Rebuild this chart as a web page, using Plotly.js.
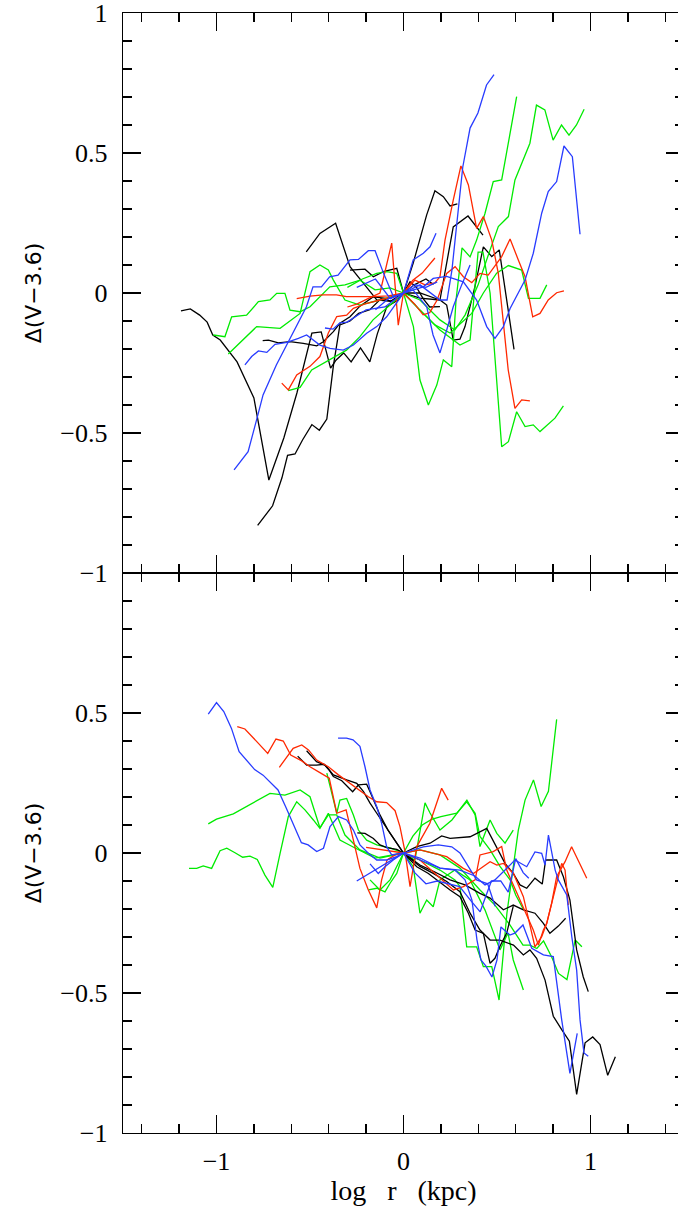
<!DOCTYPE html>
<html>
<head>
<meta charset="utf-8">
<script src="https://cdn.plot.ly/plotly-3.0.1.min.js"></script>
<style>html,body{margin:0;padding:0;overflow:hidden;background:#fff;}</style>
</head>
<body>
<div id="chart"></div>
<script>
// ---------------- TOP PANEL DATA ----------------
var topBlack1X = [-1.19,-1.14,-1.09,-1.05,-1.02,-0.98,-0.89,-0.80,-0.72,-0.64,-0.57,-0.49,-0.44,-0.39,-0.36,-0.32,-0.28,-0.23,-0.18,-0.14,-0.09,-0.03,0,0.052,0.124,0.168,0.213,0.249,0.288];
var topBlack1Y = [-0.064,-0.057,-0.079,-0.104,-0.15,-0.168,-0.246,-0.375,-0.668,-0.518,-0.357,-0.143,-0.139,-0.268,-0.239,-0.214,-0.246,-0.196,-0.246,-0.146,-0.05,-0.025,0,0.107,0.279,0.365,0.344,0.311,0.318];
var topBlack2X = [-0.78,-0.70,-0.65,-0.62,-0.58,-0.54,-0.49,-0.45,-0.41,-0.375,-0.34,-0.286,-0.24,-0.18,-0.12,-0.06,0,0.088,0.195,0.231,0.266,0.302,0.329,0.382,0.427,0.472,0.512,0.591];
var topBlack2Y = [-0.83,-0.76,-0.66,-0.58,-0.575,-0.525,-0.47,-0.49,-0.45,-0.26,-0.114,-0.1,-0.073,-0.06,-0.02,-0.03,0,-0.018,-0.025,-0.043,-0.168,-0.165,-0.12,0.023,0.165,0.13,0.154,-0.201];
var topBlack3X = [-0.52,-0.447,-0.363,-0.286,-0.215,-0.143,-0.07,0,0.088,0.195,0.266,0.345,0.425];
var topBlack3Y = [0.147,0.213,0.249,0.094,0.035,-0.025,-0.03,0,0.0,-0.025,0.236,0.275,0.207];
var topBlack4X = [-0.753,-0.722,-0.669,-0.607,-0.536,-0.464,-0.429,-0.375,-0.34,-0.286,-0.233,-0.197,-0.163,-0.08,0,0.06,0.12,0.16];
var topBlack4Y = [-0.17,-0.168,-0.178,-0.174,-0.18,-0.189,-0.174,-0.138,-0.108,-0.085,-0.047,-0.031,-0.014,-0.02,0,0.03,0.05,0.03];
var topBlack5X = [-0.286,-0.206,-0.161,-0.108,-0.036,0,0.035,0.07,0.105,0.14,0.195];
var topBlack5Y = [0.082,0.085,0.058,0.076,0.088,0,0.04,0.02,-0.02,-0.05,-0.049];

var topBlue1X = [-0.906,-0.831,-0.786,-0.751,-0.680,-0.591,-0.519,-0.484,-0.439,-0.395,-0.350,-0.286,-0.241,-0.188,-0.152,-0.107,-0.054,0,0.06,0.12,0.18];
var topBlue1Y = [-0.632,-0.567,-0.454,-0.364,-0.257,-0.144,-0.049,0.022,0.022,0.058,0.064,0.118,0.12,0.151,0.151,0.071,-0.013,0,0.03,0.02,0.04];
var topBlue2X = [-0.848,-0.812,-0.776,-0.731,-0.687,-0.624,-0.562,-0.518,-0.447,-0.393,-0.322,-0.268,-0.197,-0.143,-0.09,0,0.051,0.124,0.158,0.195,0.231,0.266,0.311,0.356];
var topBlue2Y = [-0.257,-0.227,-0.207,-0.212,-0.183,-0.176,-0.162,-0.15,-0.186,-0.198,-0.204,-0.186,-0.144,-0.12,-0.085,0,0.011,-0.049,-0.15,-0.214,-0.132,-0.049,0.029,0.1];
var topBlue3X = [-0.42,-0.377,-0.34,-0.302,-0.2,-0.1,0,0.088,0.195,0.233,0.259,0.286,0.317,0.356,0.398,0.444,0.484];
var topBlue3Y = [-0.125,-0.129,-0.107,-0.104,-0.06,-0.05,0,0.029,-0.025,-0.025,0.082,0.243,0.45,0.589,0.643,0.743,0.78];
var topBlue4X = [-0.25,-0.15,-0.07,0,0.106,0.159,0.231,0.32,0.391,0.445,0.489,0.534,0.57,0.65,0.694,0.739,0.774,0.819,0.858,0.903,0.944];
var topBlue4Y = [0.02,0.05,-0.02,0,0.022,0.052,0.059,0.04,-0.025,-0.12,-0.162,-0.12,-0.055,0.046,0.142,0.285,0.362,0.398,0.525,0.487,0.21];
var topBlue5X = [-0.15,-0.08,0,0.052,0.106,0.142,0.174];
var topBlue5Y = [-0.06,-0.02,0,0.118,0.142,0.165,0.213];

var topRed1X = [-0.651,-0.616,-0.571,-0.5,-0.447,-0.402,-0.357,-0.304,-0.268,-0.206,-0.126,-0.045,0,0.061,0.115,0.168,0.195,0.222,0.266,0.307,0.347,0.391,0.427,0.472,0.507,0.534,0.56,0.596,0.632,0.676];
var topRed1Y = [-0.322,-0.346,-0.293,-0.262,-0.227,-0.143,-0.084,-0.079,-0.055,-0.039,-0.025,-0.011,0,0.046,0.029,0.036,0.058,0.189,0.332,0.454,0.386,0.231,0.273,0.189,0.07,-0.12,-0.275,-0.412,-0.382,-0.385];
var topRed2X = [-0.571,-0.5,-0.429,-0.358,-0.305,-0.233,-0.161,-0.08,0,0.06,0.105,0.14,0.18,0.231,0.276,0.32,0.365,0.409,0.453,0.525,0.57,0.614,0.65,0.691,0.73,0.774,0.819,0.858];
var topRed2Y = [-0.02,-0.011,-0.007,-0.007,-0.013,-0.013,-0.013,-0.01,0,-0.04,-0.078,-0.07,-0.025,0.07,0.094,0.058,0.037,0.07,0.064,0.13,0.193,0.118,0.058,-0.085,-0.073,-0.025,0.001,0.008];
var topRed3X = [-0.3,-0.25,-0.19,-0.126,-0.063,-0.028,0,0.05,0.1,0.168];
var topRed3Y = [-0.05,-0.04,-0.02,0.0,0.178,-0.115,0,0.046,0.071,0.125];

var topGreen1X = [-0.616,-0.553,-0.491,-0.412,-0.305,-0.233,-0.163,-0.072,0,0.053,0.088,0.133,0.178,0.213,0.258,0.281,0.313,0.356,0.391,0.436,0.48,0.525,0.605];
var topGreen1Y = [-0.349,-0.337,-0.275,-0.245,-0.204,-0.156,-0.096,-0.043,0,-0.12,-0.311,-0.4,-0.329,-0.239,-0.263,-0.025,0.161,0.129,0.189,0.285,0.398,0.404,0.701];
var topGreen2X = [-1.017,-0.955,-0.919,-0.839,-0.776,-0.714,-0.678,-0.634,-0.607,-0.553,-0.5,-0.464,-0.394,-0.313,-0.233,-0.152,-0.072,0,0.088,0.195,0.275,0.329,0.399,0.463,0.507,0.561,0.596,0.676,0.711,0.756,0.8,0.845,0.885,0.925,0.966];
var topGreen2Y = [-0.15,-0.156,-0.085,-0.079,-0.031,-0.025,-0.001,-0.001,-0.061,-0.067,-0.049,-0.025,0.022,0.029,0.046,0.011,0.018,0,-0.025,-0.096,-0.132,-0.079,0.029,0.154,0.237,0.273,0.404,0.535,0.671,0.654,0.546,0.6,0.564,0.6,0.656];
var topGreen3X = [-0.937,-0.857,-0.785,-0.66,-0.553,-0.5,-0.447,-0.402,-0.375,-0.313,-0.233,-0.126,0,0.088,0.195,0.302,0.356,0.399,0.425,0.463,0.489,0.525,0.561,0.605,0.65,0.694,0.73,0.81,0.855];
var topGreen3Y = [-0.218,-0.168,-0.12,-0.126,-0.073,0.076,0.1,0.082,0.046,-0.025,-0.043,-0.025,0,-0.061,-0.132,-0.186,-0.168,0.146,0.146,0,-0.239,-0.549,-0.531,-0.424,-0.477,-0.471,-0.495,-0.447,-0.403];
var topGreen4X = [-0.3,-0.22,-0.143,-0.09,-0.036,0,0.088,0.168,0.249,0.365,0.427,0.498,0.561,0.632,0.668,0.73,0.766];
var topGreen4Y = [0.02,0.05,0.07,0.076,0.07,0,-0.061,-0.114,-0.143,-0.073,0,0.071,0.098,0.082,-0.019,-0.019,0.029];

// ---------------- BOTTOM PANEL DATA ----------------
var botBlue1X = [-1.044,-1.0,-0.961,-0.92,-0.879,-0.84,-0.796,-0.751,-0.706,-0.671,-0.626,-0.591,-0.546,-0.51,-0.464,-0.428,-0.393,-0.348,-0.304,-0.268,-0.233,-0.188,-0.143,-0.09,-0.036,0,0.088,0.195,0.275,0.329,0.366,0.393,0.414,0.441,0.473,0.5,0.521,0.569,0.596,0.639,0.686,0.748,0.801,0.846,0.89,0.929];
var botBlue1Y = [0.496,0.537,0.505,0.445,0.362,0.332,0.298,0.278,0.246,0.225,0.159,0.106,0.037,0.029,0.005,0.017,0.094,0.13,0.118,0.082,0.029,-0.001,-0.025,-0.025,-0.013,0,-0.018,-0.054,-0.061,-0.096,-0.168,-0.311,-0.382,-0.404,-0.443,-0.382,-0.264,-0.293,-0.286,-0.257,-0.34,-0.364,-0.37,-0.596,-0.787,-0.644];
var botBlue2X = [-0.35,-0.305,-0.27,-0.233,-0.206,-0.179,-0.143,-0.117,-0.09,-0.063,-0.019,0,0.088,0.195,0.302,0.382,0.436,0.489,0.543,0.596,0.659,0.703,0.739,0.757,0.775,0.811,0.828,0.873,0.9,0.926,0.944,0.965,0.988];
var botBlue2Y = [0.41,0.41,0.404,0.381,0.308,0.225,0.165,0.106,0.022,-0.007,-0.001,0,-0.025,-0.054,-0.061,-0.082,-0.114,-0.096,-0.061,-0.025,-0.049,0.004,-0.001,-0.043,0.064,-0.061,-0.096,-0.15,-0.299,-0.418,-0.596,-0.714,-0.726];
var botBlue3X = [-0.179,-0.135,-0.099,-0.055,0,0.106,0.186,0.258,0.302,0.347,0.391,0.45,0.49];
var botBlue3Y = [-0.039,-0.073,-0.049,-0.025,0,0.022,0.029,0.022,0,-0.049,-0.096,-0.11,-0.19];
var botBlue4X = [-0.25,-0.15,-0.07,0,0.06,0.12,0.18,0.24,0.3,0.36,0.41,0.47,0.52,0.56,0.6,0.64,0.67];
var botBlue4Y = [-0.1,-0.06,-0.03,0,-0.07,-0.11,-0.1,-0.11,-0.12,-0.17,-0.21,-0.1,-0.1,-0.14,-0.02,-0.07,-0.09];

var botRed1X = [-0.889,-0.848,-0.726,-0.682,-0.643,-0.603,-0.544,-0.5,-0.447,-0.397,-0.357,-0.307,-0.268,-0.233,-0.188,-0.143,-0.117,-0.088,-0.045,0,0.088,0.231,0.32,0.374,0.463,0.499,0.534,0.588,0.641,0.703,0.739,0.766,0.792,0.819,0.864,0.899,0.944,0.98];
var botRed1Y = [0.451,0.443,0.356,0.407,0.4,0.35,0.329,0.308,0.287,0.267,0.142,0.154,0.046,-0.055,-0.132,-0.196,-0.096,-0.025,-0.007,0,0.011,-0.013,-0.055,-0.073,-0.031,-0.043,-0.037,-0.073,-0.156,-0.335,-0.299,-0.251,-0.18,-0.085,-0.031,0.022,-0.037,-0.09];
var botRed2X = [-0.664,-0.625,-0.59,-0.544,-0.508,-0.464,-0.402,-0.348,-0.286,-0.233,-0.188,-0.143,-0.09,-0.045,-0.019,0.008,0.035,0.071,0.141,0.159,0.204,0.239];
var botRed2Y = [0.306,0.342,0.374,0.386,0.368,0.332,0.308,0.279,0.249,0.225,0.201,0.183,0.18,0.151,0.094,0.005,-0.12,0.023,0.106,0.142,0.231,0.189];
var botRed3X = [-0.2,-0.1,0,0.088,0.187,0.267,0.32,0.383,0.409,0.48,0.525,0.552,0.579,0.641,0.694,0.721,0.748,0.766,0.793,0.819,0.846,0.864,0.881];
var botRed3Y = [0.02,0.01,0,-0.025,-0.085,-0.132,-0.12,-0.096,-0.007,0.005,0.023,-0.061,-0.102,-0.192,-0.275,-0.329,-0.275,-0.251,-0.18,-0.108,-0.037,-0.061,-0.186];

var botBlack1X = [-0.566,-0.518,-0.465,-0.425,-0.397,-0.375,-0.33,-0.272,-0.241,-0.197,-0.179,-0.161,-0.126,-0.083,-0.036,0,0.088,0.159,0.231,0.302,0.356,0.409,0.463,0.516,0.588,0.641,0.676,0.712,0.757,0.801,0.846,0.887,0.926,0.971,1.012,1.051,1.092,1.133];
var botBlack1Y = [0.346,0.314,0.314,0.317,0.296,0.273,0.258,0.219,0.243,0.246,0.219,0.189,0.136,0.082,0.036,0,-0.048,-0.073,-0.102,-0.138,-0.215,-0.275,-0.311,-0.311,-0.329,-0.364,-0.346,-0.376,-0.454,-0.583,-0.631,-0.672,-0.862,-0.678,-0.657,-0.684,-0.794,-0.728];
var botBlack2X = [-0.518,-0.465,-0.42,-0.375,-0.304,-0.25,-0.214,-0.179,-0.143,-0.108,-0.072,-0.036,0,0.071,0.142,0.204,0.249,0.356,0.445,0.498,0.543,0.587,0.623,0.659,0.703,0.742,0.76,0.819,0.855,0.89,0.926,0.961,0.988];
var botBlack2Y = [0.365,0.326,0.314,0.279,0.261,0.249,0.219,0.178,0.142,0.106,0.071,0.035,0,0.023,0.035,0.061,0.052,0.058,0.088,0.023,-0.037,-0.073,-0.114,-0.126,-0.09,-0.111,-0.025,-0.025,-0.085,-0.168,-0.346,-0.442,-0.495];
var botBlack3X = [-0.247,-0.206,-0.161,-0.126,-0.09,-0.036,0,0.071,0.133,0.187,0.249,0.302,0.347,0.383,0.427,0.463,0.489,0.516,0.552,0.587];
var botBlack3Y = [0.072,0.07,0.052,0.029,0.019,0.013,0,-0.049,-0.073,-0.102,-0.132,-0.156,-0.215,-0.275,-0.287,-0.394,-0.376,-0.333,-0.286,-0.19];
var botBlack4X = [0,0.088,0.168,0.249,0.329,0.409,0.463,0.534,0.587,0.641,0.703,0.748,0.783,0.828,0.867];
var botBlack4Y = [0,-0.043,-0.068,-0.096,-0.114,-0.144,-0.161,-0.203,-0.186,-0.203,-0.215,-0.251,-0.287,-0.261,-0.233];

var botGreen1X = [-1.044,-1.0,-0.91,-0.838,-0.775,-0.714,-0.634,-0.553,-0.5,-0.447,-0.402,-0.357,-0.313,-0.233,-0.126,0,0.05,0.1,0.15,0.2,0.285,0.338,0.383,0.409,0.463,0.516,0.57,0.6,0.64];
var botGreen1Y = [0.104,0.121,0.14,0.166,0.189,0.213,0.207,0.225,0.201,0.09,0.136,0.136,0.064,0.011,-0.018,0,0.06,0.1,0.12,0.13,0.142,0.183,0.142,0.059,0.011,-0.048,-0.096,-0.15,-0.2];
var botGreen2X = [-1.147,-1.106,-1.071,-1.026,-0.981,-0.945,-0.901,-0.86,-0.821,-0.782,-0.741,-0.699,-0.66,-0.616,-0.571,-0.527,-0.482,-0.447,-0.402,-0.34,-0.259,-0.152,0,0.088,0.195,0.275,0.302,0.338,0.391,0.427,0.472,0.511,0.553,0.589,0.614,0.65,0.695,0.736,0.775,0.819];
var botGreen2Y = [-0.055,-0.055,-0.046,-0.055,0.008,0.017,0.001,-0.015,-0.011,-0.023,-0.079,-0.123,-0.001,0.13,0.183,0.154,0.118,0.088,0.142,0.046,0.018,-0.018,0,-0.025,-0.061,-0.096,-0.12,-0.335,-0.335,-0.406,-0.406,-0.525,-0.215,-0.049,0.082,0.189,0.261,0.166,0.22,0.477];
var botGreen3X = [-0.41,-0.357,-0.34,-0.304,-0.268,-0.241,-0.197,-0.143,-0.072,0,0.061,0.115,0.142,0.195,0.259,0.339,0.383,0.409,0.463,0.499,0.543,0.587];
var botGreen3Y = [0.285,0.142,0.189,0.195,0.136,0.082,0.046,0.029,0.018,0,-0.025,0.179,0.143,0.082,0.118,0.189,0.136,0.023,0.118,0.07,0.035,0.082];
var botGreen4X = [-0.188,-0.143,-0.099,-0.072,-0.036,0,0.052,0.088,0.124,0.159,0.195,0.275,0.356,0.436,0.516,0.559,0.587,0.614,0.641];
var botGreen4Y = [-0.132,-0.126,-0.139,-0.108,-0.073,0,-0.049,-0.215,-0.168,-0.192,-0.096,-0.061,-0.096,-0.204,-0.346,-0.286,-0.382,-0.436,-0.489];
var botGreen5X = [-0.179,-0.126,-0.072,0,0.088,0.195,0.302,0.409,0.489,0.569,0.639,0.676,0.713,0.749,0.793,0.829,0.874,0.918,0.954];
var botGreen5Y = [-0.096,-0.132,-0.096,0,0.011,-0.007,-0.054,-0.132,-0.186,-0.257,-0.329,-0.329,-0.341,-0.314,-0.372,-0.43,-0.452,-0.311,-0.335];

// ---------------- AXIS TEXT ----------------
var xTitle = 'log\u00a0\u00a0\u00a0r\u00a0\u00a0\u00a0(kpc)';
var yTitle = '\u0394(V\u22123.6)';
var xTickVals = [-1, 0, 1];
var xTickText = ['\u22121', '0', '1'];
var yTickVals = [-1, -0.5, 0, 0.5, 1];
var yTopTickText = ['\u22121', '\u22120.5', '0', '0.5', '1'];
var yBotTickText = ['\u22121', '\u22120.5', '0', '0.5', ''];

// ---------------- BUILD ----------------
var BLACK = '#000000', BLUE = 'rgb(40,60,255)', RED = 'rgb(255,40,0)', GREEN = 'rgb(0,235,0)';
var series = [
  [topBlack1X, topBlack1Y, BLACK, 'top'], [topBlack2X, topBlack2Y, BLACK, 'top'],
  [topBlack3X, topBlack3Y, BLACK, 'top'], [topBlack4X, topBlack4Y, BLACK, 'top'],
  [topBlack5X, topBlack5Y, BLACK, 'top'],
  [topGreen1X, topGreen1Y, GREEN, 'top'], [topGreen2X, topGreen2Y, GREEN, 'top'],
  [topGreen3X, topGreen3Y, GREEN, 'top'], [topGreen4X, topGreen4Y, GREEN, 'top'],
  [topRed1X, topRed1Y, RED, 'top'], [topRed2X, topRed2Y, RED, 'top'], [topRed3X, topRed3Y, RED, 'top'],
  [topBlue1X, topBlue1Y, BLUE, 'top'], [topBlue2X, topBlue2Y, BLUE, 'top'], [topBlue3X, topBlue3Y, BLUE, 'top'],
  [topBlue4X, topBlue4Y, BLUE, 'top'], [topBlue5X, topBlue5Y, BLUE, 'top'],
  [botGreen1X, botGreen1Y, GREEN, 'bot'], [botGreen2X, botGreen2Y, GREEN, 'bot'],
  [botGreen3X, botGreen3Y, GREEN, 'bot'], [botGreen4X, botGreen4Y, GREEN, 'bot'],
  [botGreen5X, botGreen5Y, GREEN, 'bot'],
  [botBlack1X, botBlack1Y, BLACK, 'bot'], [botBlack2X, botBlack2Y, BLACK, 'bot'],
  [botBlack3X, botBlack3Y, BLACK, 'bot'], [botBlack4X, botBlack4Y, BLACK, 'bot'],
  [botRed1X, botRed1Y, RED, 'bot'], [botRed2X, botRed2Y, RED, 'bot'], [botRed3X, botRed3Y, RED, 'bot'],
  [botBlue1X, botBlue1Y, BLUE, 'bot'], [botBlue2X, botBlue2Y, BLUE, 'bot'],
  [botBlue3X, botBlue3Y, BLUE, 'bot'], [botBlue4X, botBlue4Y, BLUE, 'bot']
];
var traces = series.map(function (s) {
  return {
    x: s[0], y: s[1], type: 'scatter', mode: 'lines',
    line: {color: s[2], width: 1.3},
    xaxis: s[3] === 'top' ? 'x2' : 'x',
    yaxis: s[3] === 'top' ? 'y2' : 'y',
    hoverinfo: 'skip', showlegend: false
  };
});

var tickFont = {family: 'Liberation Serif, serif', size: 26, color: '#000'};
function baseAxis() {
  return {
    ticks: 'inside', ticklen: 18, tickwidth: 1.3, tickcolor: '#000',
    showline: true, linecolor: '#000', linewidth: 1.3, mirror: 'allticks',
    showgrid: false, zeroline: false, automargin: false, tickfont: tickFont,
    ticklabeloverflow: 'allow'
  };
}
var xMinor = {tickmode: 'linear', tick0: 0, dtick: 0.2, ticks: 'inside', ticklen: 9, tickwidth: 1.3, tickcolor: '#000', showgrid: false};
var xBot = Object.assign(baseAxis(), {
  range: [-1.5, 1.5], anchor: 'y', tickmode: 'array', tickvals: xTickVals, ticktext: xTickText,
  minor: xMinor, ticklabelstandoff: 4,
  title: {text: xTitle, font: {family: 'Liberation Serif, serif', size: 28, color: '#000'}, standoff: 4}
});
var xTop = Object.assign(baseAxis(), {
  range: [-1.5, 1.5], anchor: 'y2', matches: 'x', showticklabels: false, tickmode: 'array', tickvals: xTickVals,
  minor: xMinor
});
var yMinor = {tickmode: 'linear', tick0: 0, dtick: 0.1, ticks: 'inside', ticklen: 9, tickwidth: 1.3, tickcolor: '#000', showgrid: false};
var yTitleFont = {family: 'DejaVu Sans, sans-serif', size: 22, color: '#000'};
var yBot = Object.assign(baseAxis(), {
  range: [-1, 1], domain: [0, 0.5], anchor: 'x', tickmode: 'array', tickvals: yTickVals, ticktext: yBotTickText,
  minor: yMinor, ticklabelstandoff: 9,
  title: {text: yTitle, font: yTitleFont, standoff: 12}
});
var yTop = Object.assign(baseAxis(), {
  range: [-1, 1], domain: [0.5, 1], anchor: 'x2', tickmode: 'array', tickvals: yTickVals, ticktext: yTopTickText,
  minor: yMinor, ticklabelstandoff: 9,
  title: {text: yTitle, font: yTitleFont, standoff: 12}
});

var layout = {
  width: 690, height: 1209,
  margin: {l: 123, r: 6, t: 13, b: 76},
  paper_bgcolor: '#fff', plot_bgcolor: '#fff',
  showlegend: false,
  xaxis: xBot, yaxis: yBot, xaxis2: xTop, yaxis2: yTop
};
Plotly.newPlot('chart', traces, layout, {displayModeBar: false, staticPlot: true});
</script>
</body>
</html>
